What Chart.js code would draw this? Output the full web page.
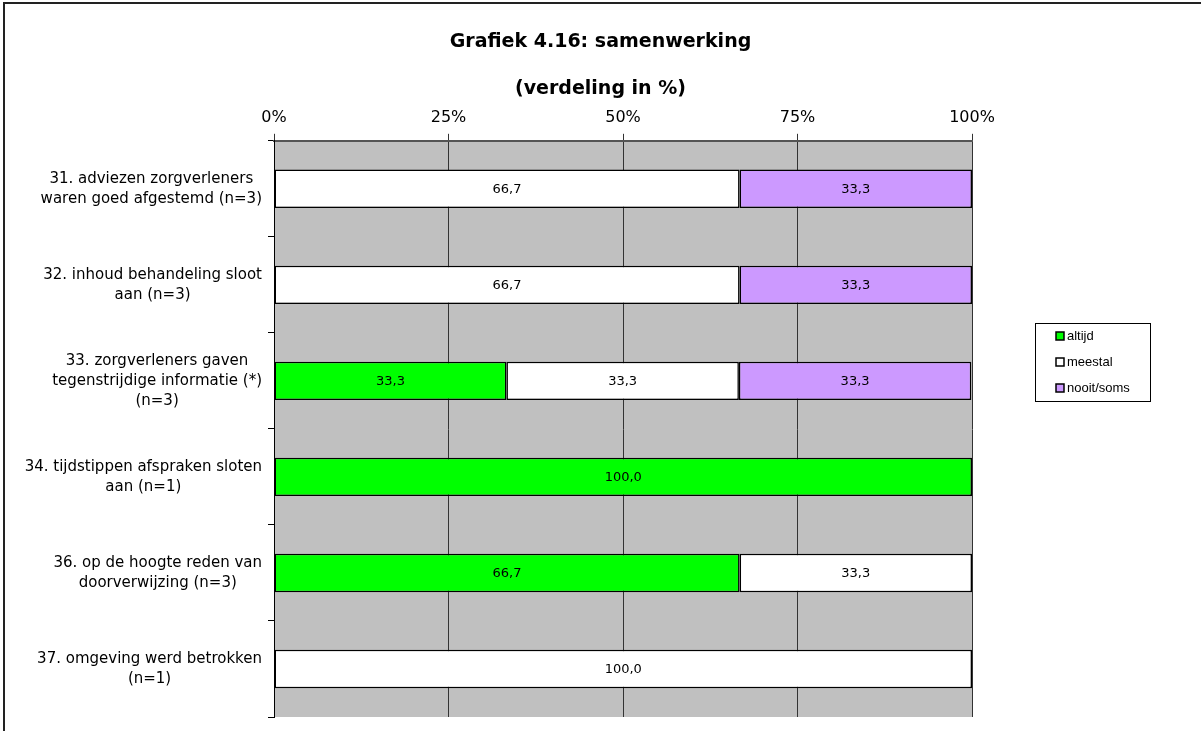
<!DOCTYPE html>
<html>
<head>
<meta charset="utf-8">
<script src="https://cdn.jsdelivr.net/npm/chart.js"></script>
<style>
    body { margin: 0; background: #fff; }
    #wrap { width: 1201px; height: 731px; position: relative; }
</style>
</head>
<body>
<div id="wrap"><canvas id="chart" width="1201" height="731"></canvas></div>
<script>
// categories (each entry = lines of the label)
const categories = [
    ['31. adviezen zorgverleners', 'waren goed afgestemd (n=3)'],
    ['32. inhoud behandeling sloot', 'aan (n=3)'],
    ['33. zorgverleners gaven', 'tegenstrijdige informatie (*)', '(n=3)'],
    ['34. tijdstippen afspraken sloten', 'aan (n=1)'],
    ['36. op de hoogte reden van', 'doorverwijzing (n=3)'],
    ['37. omgeving werd betrokken', '(n=1)']
];
const seriesNames = ['altijd', 'meestal', 'nooit/soms'];
const altijd = [0, 0, 33.3, 100, 66.7, 0];
const meestal = [66.7, 66.7, 33.3, 0, 33.3, 100];
const nooitSoms = [33.3, 33.3, 33.3, 0, 0, 0];
const seriesColors = ['#00FF00', '#FFFFFF', '#CC99FF'];
const tickValues = [0, 25, 50, 75, 100];

const FONT = '"DejaVu Sans", Verdana, sans-serif';

// frame + grey plot background
const background = {
    id: 'background',
    beforeDraw(chart) {
        const ctx = chart.ctx;
        const a = chart.chartArea;
        ctx.save();
        ctx.fillStyle = '#C0C0C0';
        ctx.fillRect(a.left, a.top, a.right - a.left, a.bottom - a.top);
        ctx.strokeStyle = '#222';
        ctx.lineWidth = 2;
        ctx.beginPath();
        ctx.moveTo(1201, 3);
        ctx.lineTo(4, 3);
        ctx.lineTo(4, 731);
        ctx.stroke();
        ctx.restore();
    }
};

// category labels: block right aligned, lines centred inside the block
const categoryLabels = {
    id: 'categoryLabels',
    afterDraw(chart) {
        const ctx = chart.ctx;
        const y = chart.scales.y;
        ctx.save();
        ctx.font = '15px ' + FONT;
        ctx.fillStyle = '#000';
        ctx.textAlign = 'center';
        ctx.textBaseline = 'middle';
        categories.forEach((lines, i) => {
            const cy = y.getPixelForValue(i);
            const bw = Math.max(...lines.map(l => ctx.measureText(l).width));
            const cx = y.right - 12 - bw / 2;
            const y0 = cy - (lines.length - 1) * 20 / 2;
            lines.forEach((l, j) => ctx.fillText(l, cx, y0 + j * 20));
        });
        ctx.restore();
    }
};

// values inside the bars
const valueLabels = {
    id: 'valueLabels',
    afterDatasetsDraw(chart) {
        const ctx = chart.ctx;
        ctx.save();
        ctx.font = '13px ' + FONT;
        ctx.fillStyle = '#000';
        ctx.textAlign = 'center';
        ctx.textBaseline = 'middle';
        chart.data.datasets.forEach((ds, di) => {
            chart.getDatasetMeta(di).data.forEach((bar, i) => {
                const v = ds.data[i];
                if (!v) return;
                const p = bar.getCenterPoint();
                ctx.fillText(v.toFixed(1).replace('.', ','), p.x, p.y + 1);
            });
        });
        ctx.restore();
    }
};

// legend box on the right
const legendBox = {
    id: 'legendBox',
    afterDraw(chart) {
        const ctx = chart.ctx;
        ctx.save();
        ctx.fillStyle = '#fff';
        ctx.fillRect(1035, 323, 115, 78);
        ctx.strokeStyle = '#000';
        ctx.lineWidth = 1;
        ctx.strokeRect(1035.5, 323.5, 115, 78);
        ctx.font = '13px "Liberation Sans", Arial, sans-serif';
        ctx.textBaseline = 'middle';
        ctx.textAlign = 'left';
        seriesNames.forEach((name, i) => {
            const cy = 336 + i * 26;
            ctx.fillStyle = seriesColors[i];
            ctx.fillRect(1056, cy - 4, 8, 8);
            ctx.lineWidth = 1.5;
            ctx.strokeStyle = '#000';
            ctx.strokeRect(1056, cy - 4, 8, 8);
            ctx.fillStyle = '#000';
            ctx.fillText(name, 1067, cy);
        });
        ctx.restore();
    }
};

const seriesValues = [altijd, meestal, nooitSoms];

new Chart(document.getElementById('chart'), {
    type: 'bar',
    data: {
        labels: categories.map(c => c.join(' ')),
        datasets: seriesNames.map((name, i) => ({
            label: name,
            data: seriesValues[i],
            backgroundColor: seriesColors[i],
            borderColor: '#000',
            borderWidth: 1.5,
            borderSkipped: false,
            barPercentage: 0.4,
            categoryPercentage: 1
        }))
    },
    options: {
        indexAxis: 'y',
        responsive: false,
        animation: false,
        layout: { padding: { top: 0, left: 0, right: 0, bottom: 14 } },
        plugins: {
            legend: { display: false },
            tooltip: { enabled: false },
            title: {
                display: true,
                text: 'Grafiek 4.16: samenwerking',
                color: '#000',
                font: { family: FONT, size: 19, weight: 'bold', lineHeight: 1.2 },
                padding: { top: 31, bottom: 0 }
            },
            subtitle: {
                display: true,
                text: '(verdeling in %)',
                color: '#000',
                font: { family: FONT, size: 19, weight: 'bold', lineHeight: 1.2 },
                padding: { top: 24, bottom: 2 }
            }
        },
        scales: {
            x: {
                position: 'top',
                stacked: true,
                min: 0,
                max: 100,
                afterBuildTicks: s => { s.ticks = tickValues.map(v => ({ value: v })); },
                ticks: {
                    color: '#000',
                    padding: 6,
                    font: { family: FONT, size: 16 },
                    callback: v => v + '%'
                },
                grid: { color: '#333', lineWidth: 1, tickLength: 7 },
                border: { color: '#555', width: 2 }
            },
            y: {
                stacked: true,
                ticks: { display: false },
                grid: { drawOnChartArea: false, color: '#000', tickLength: 6 },
                border: { color: '#000', width: 1 },
                afterFit: s => { s.width = 274; }
            },
            y2: {
                type: 'linear',
                position: 'right',
                min: 0,
                max: 1,
                ticks: { display: false },
                grid: { display: false },
                border: { display: false },
                afterFit: s => { s.width = 229; }
            }
        }
    },
    plugins: [background, categoryLabels, valueLabels, legendBox]
});
</script>
</body>
</html>
